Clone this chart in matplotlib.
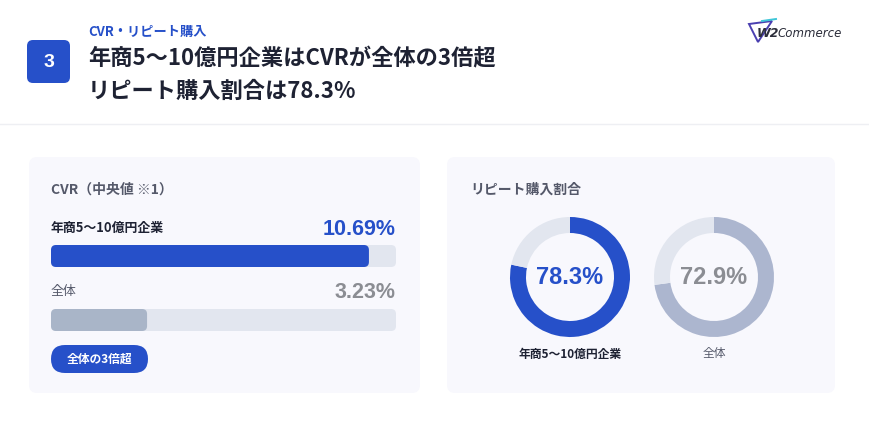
import matplotlib
matplotlib.use("Agg")
import matplotlib.pyplot as plt
from matplotlib.patches import FancyBboxPatch, Polygon
import numpy as np

plt.rcParams['font.family'] = ['Noto Sans CJK JP', 'DejaVu Sans']

# ---- data ----
kicker = "CVR・リピート購入"
title_lines = ["年商5～10億円企業はCVRが全体の3倍超", "リピート購入割合は78.3%"]
badge_number = "3"
cvr_title = "CVR（中央値 ※1）"
cvr_labels = ["年商5～10億円企業", "全体"]
cvr_values = [10.69, 3.23]
cvr_scale_max = 11.6
cvr_badge = "全体の3倍超"
repeat_title = "リピート購入割合"
repeat_labels = ["年商5～10億円企業", "全体"]
repeat_values = [78.3, 72.9]

BLUE = "#2650c9"
GRAY_BAR = "#a9b5c8"
GRAY_DONUT = "#acb6cf"
TRACK = "#e2e6ef"
PANEL = "#f8f8fd"
DARK = "#1e2233"
MID = "#55596a"
GRAY_TXT = "#8b8d93"

W, H = 870, 428
fig = plt.figure(figsize=(W / 100, H / 100), dpi=100)
fig.patch.set_facecolor("white")
bg = fig.add_axes([0, 0, 1, 1])
bg.set_xlim(0, W)
bg.set_ylim(H, 0)
bg.axis("off")

def fax(x0, y0, x1, y1):
    """figure axes from pixel box (top-left origin)"""
    return fig.add_axes([x0 / W, 1 - y1 / H, (x1 - x0) / W, (y1 - y0) / H])

# header
bg.add_patch(FancyBboxPatch((27, 40), 43, 43, boxstyle="round,pad=0,rounding_size=6",
                            fc=BLUE, ec="none"))
bg.text(48.5, 62, badge_number, color="white", fontsize=14, fontweight="bold",
        family=["Liberation Sans"], ha="center", va="center")
bg.text(88, 32, kicker, color=BLUE, fontsize=9.5, fontweight="bold", ha="left", va="center")
bg.text(88, 59, title_lines[0], color=DARK, fontsize=16, fontweight="bold", ha="left", va="center")
bg.text(88, 91, title_lines[1], color=DARK, fontsize=16, fontweight="bold", ha="left", va="center")
bg.plot([0, W], [124, 124], color="#eeeff3", lw=1)

# logo
bg.add_patch(Polygon([[749, 24], [772, 21], [758, 42]], closed=True, fill=False,
                     ec="#4a3fb0", lw=1.4))
bg.plot([762, 776], [21, 19], color="#3ec6d8", lw=1.4)
bg.text(757, 33, "W2", color="#2b2d3a", fontsize=9, fontweight="bold", style="italic",
        family=["DejaVu Sans"], ha="left", va="center")
bg.text(778, 33, "Commerce", color="#2b2d3a", fontsize=8.5, style="italic",
        family=["DejaVu Sans"], ha="left", va="center")

# panels
for (x0, x1) in [(29, 420), (447, 835)]:
    bg.add_patch(FancyBboxPatch((x0, 157), x1 - x0, 236, boxstyle="round,pad=0,rounding_size=8",
                                fc=PANEL, ec="none"))

# ---- CVR panel ----
bg.text(51, 190, cvr_title, color=MID, fontsize=10, fontweight="bold", ha="left", va="center")
val_colors = [BLUE, GRAY_TXT]
label_colors = [DARK, MID]
label_weights = ["bold", "normal"]
label_y = [228, 292]
for i, (lab, v) in enumerate(zip(cvr_labels, cvr_values)):
    bg.text(51, label_y[i], lab, color=label_colors[i], fontsize=9.3,
            fontweight=label_weights[i], ha="left", va="center")
    bg.text(396, label_y[i] + 1, f"{v:.2f}%", color=val_colors[i], fontsize=15.5,
            fontweight="bold", family=["Liberation Sans"], ha="right", va="center")

bax = fax(51, 240, 396, 336)
bax.set_xlim(0, cvr_scale_max)
bax.set_ylim(1.25, -0.25)
bax.axis("off")
ypos = np.arange(len(cvr_values))
bh = 22 / 64
tracks = bax.barh(ypos, [cvr_scale_max] * len(cvr_values), height=bh, color=TRACK)
bars = bax.barh(ypos, cvr_values, height=bh, color=[BLUE, GRAY_BAR])
xu = cvr_scale_max / 345.0  # data per px (x)
yu = 1 / 64.0               # data per px (y)
for rect in list(tracks) + list(bars):
    rect.set_visible(False)
    bax.add_patch(FancyBboxPatch((rect.get_x(), rect.get_y()), rect.get_width(), rect.get_height(),
                                 boxstyle=f"round,pad=0,rounding_size={5 * xu}",
                                 mutation_aspect=yu / xu, fc=rect.get_facecolor(), ec="none"))

# pill badge
bg.add_patch(FancyBboxPatch((51, 345), 97, 28, boxstyle="round,pad=0,rounding_size=14",
                            fc=BLUE, ec="none"))
bg.text(99.5, 359, cvr_badge, color="white", fontsize=8.5, fontweight="bold",
        ha="center", va="center")

# ---- repeat panel ----
bg.text(470, 190, repeat_title, color=MID, fontsize=10, fontweight="bold", ha="left", va="center")
centers = [570, 714]
ring_colors = [BLUE, GRAY_DONUT]
txt_colors = [BLUE, GRAY_TXT]
R = 60
for i, (lab, v) in enumerate(zip(repeat_labels, repeat_values)):
    cx, cy = centers[i], 277
    ax = fax(cx - R, cy - R, cx + R, cy + R)
    ax.pie([v, 100 - v], colors=[ring_colors[i], TRACK], startangle=90, counterclock=False,
           radius=1, wedgeprops=dict(width=16 / R, edgecolor="none"))
    ax.set_xlim(-1, 1)
    ax.set_ylim(-1, 1)
    ax.set_aspect("equal")
    ax.axis("off")
    bg.text(cx, cy, f"{v:.1f}%", color=txt_colors[i], fontsize=17, fontweight="bold",
            family=["Liberation Sans"], ha="center", va="center")
    bg.text(cx, 354, lab, color=label_colors[i], fontsize=8.5, fontweight=label_weights[i],
            ha="center", va="center")

fig.savefig("out.png", dpi=100, facecolor="white")
